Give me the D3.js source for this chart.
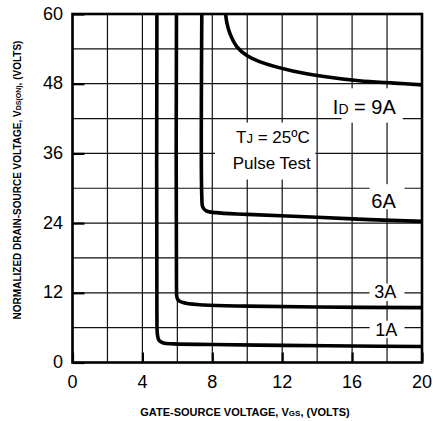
<!DOCTYPE html>
<html>
<head>
<meta charset="utf-8">
<script src="https://cdn.jsdelivr.net/npm/d3@7"></script>
<style>
  body { margin: 0; background: #fff; }
  svg { display: block; font-family: "Liberation Sans", Arial, sans-serif; }
</style>
</head>
<body>
<svg width="433" height="421"></svg>
<script>
// curves: gate-source voltage vs normalized Vds(on)
var vgs1A = [4.83, 4.83, 4.86, 4.95, 5.2, 5.8, 8, 12, 16, 20];
var vds1A = [60, 8, 4.8, 3.8, 3.35, 3.2, 3.1, 2.95, 2.85, 2.75];
var vgs3A = [5.95, 5.95, 5.98, 6.1, 6.5, 7.5, 10, 14, 20];
var vds3A = [60, 13, 11.2, 10.6, 10.2, 9.9, 9.7, 9.55, 9.45];
var vgs6A = [7.4, 7.4, 7.45, 7.65, 8.2, 10, 14, 17, 20];
var vds6A = [60, 28.5, 26.8, 26.1, 25.8, 25.5, 25.0, 24.6, 24.3];
var vgs9A = [8.76, 8.84, 9.0, 9.4, 10.0, 10.7, 12.6, 14.5, 16.4, 18.4, 20];
var vds9A = [60, 58.4, 56.7, 54.4, 52.8, 51.8, 50.2, 49.2, 48.5, 48.1, 47.8];

var xTicks = [0, 4, 8, 12, 16, 20];
var yTicks = [0, 12, 24, 36, 48, 60];
var xGrid = d3.range(0, 21, 2);
var yGrid = d3.range(0, 61, 6);

var curveLabels = ["9A", "6A", "3A", "1A"];
var labelAt = [[16.7, 44.0], [17.8, 27.8], [17.9, 12.2], [17.95, 5.6]];
var labelSize = [20, 20, 18, 18];

var svg = d3.select("svg");
var x = d3.scaleLinear().domain([0, 20]).range([72.5, 422]);
var y = d3.scaleLinear().domain([0, 60]).range([362.5, 14]);

// grid
svg.append("g").selectAll("line.vg").data(xGrid).enter().append("line")
  .attr("x1", d => x(d)).attr("x2", d => x(d))
  .attr("y1", y(0)).attr("y2", y(60))
  .attr("stroke", "#111").attr("stroke-width", 1.2);
svg.append("g").selectAll("line.hg").data(yGrid).enter().append("line")
  .attr("x1", x(0)).attr("x2", x(20))
  .attr("y1", d => y(d)).attr("y2", d => y(d))
  .attr("stroke", "#111").attr("stroke-width", 1.2);

// inner major ticks
var yAxis = d3.axisLeft(y).tickValues(yTicks).tickSize(-12).tickFormat("");
svg.append("g").attr("transform", `translate(${x(0)},0)`).call(yAxis)
  .call(g => g.select(".domain").remove())
  .selectAll("line").attr("stroke-width", 2.2);
var xAxis = d3.axisBottom(x).tickValues(xTicks).tickSize(-10).tickFormat("");
svg.append("g").attr("transform", `translate(0,${y(0)})`).call(xAxis)
  .call(g => g.select(".domain").remove())
  .selectAll("line").attr("stroke-width", 2.2);

// white boxes behind the annotations
var boxes = [[15.4, 18.9, 47.2, 41.3], [8.15, 13.9, 41.3, 31.5],
             [17.0, 19.0, 30.7, 26.4], [17.0, 19.0, 13.6, 10.6], [17.0, 19.0, 7.2, 4.2]];
svg.append("g").selectAll("rect").data(boxes).enter().append("rect")
  .attr("x", d => x(d[0])).attr("width", d => x(d[1]) - x(d[0]))
  .attr("y", d => y(d[2])).attr("height", d => y(d[3]) - y(d[2]))
  .attr("fill", "#fff");

// frame
svg.append("rect").attr("x", x(0)).attr("y", y(60))
  .attr("width", x(20) - x(0)).attr("height", y(0) - y(60))
  .attr("fill", "none").attr("stroke", "#000").attr("stroke-width", 2.6);

// curves
var line = d3.line().x(d => x(d[0])).y(d => y(d[1])).curve(d3.curveCatmullRom.alpha(0.5));
var curves = [[vgs1A, vds1A], [vgs3A, vds3A], [vgs6A, vds6A], [vgs9A, vds9A]];
svg.append("g").selectAll("path").data(curves).enter().append("path")
  .attr("d", d => line(d3.zip(d[0], d[1])))
  .attr("fill", "none").attr("stroke", "#000").attr("stroke-width", 3.6);

// tick labels
svg.append("g").selectAll("text").data(yTicks).enter().append("text")
  .attr("x", 63).attr("y", d => y(d) + 5.5)
  .attr("text-anchor", "end").attr("font-size", 18).text(d => d);
svg.append("g").selectAll("text").data(xTicks).enter().append("text")
  .attr("x", d => x(d)).attr("y", 388)
  .attr("text-anchor", "middle").attr("font-size", 18).text(d => d);

// curve labels
var lab = svg.append("g");
curveLabels.forEach(function(t, i) {
  var tx = lab.append("text").attr("x", x(labelAt[i][0])).attr("y", y(labelAt[i][1]) + labelSize[i] * 0.36)
    .attr("text-anchor", "middle").attr("font-size", labelSize[i]);
  if (i === 0) {
    tx.append("tspan").text("I");
    tx.append("tspan").attr("font-size", 14).text("D");
    tx.append("tspan").text(" = " + t);
  } else {
    tx.text(t);
  }
});
var cond = svg.append("g").attr("font-size", 17).attr("text-anchor", "middle");
var tj = cond.append("text").attr("x", x(11.47)).attr("y", y(38.8) + 6);
tj.append("tspan").text("T");
tj.append("tspan").attr("font-size", 13).text("J");
tj.append("tspan").text(" = 25\u00baC");
cond.append("text").attr("x", x(11.4)).attr("y", y(34.4) + 6).text("Pulse Test");

// axis titles
var xt = svg.append("text").attr("x", 245).attr("y", 416)
  .attr("text-anchor", "middle").attr("font-size", 11).attr("font-weight", "bold");
xt.append("tspan").text("GATE-SOURCE VOLTAGE, V");
xt.append("tspan").attr("font-size", 8).text("GS");
xt.append("tspan").text(", (VOLTS)");

var yt = svg.append("text").attr("transform", "translate(21,180) rotate(-90)")
  .attr("text-anchor", "middle").attr("font-size", 10).attr("font-weight", "bold");
yt.append("tspan").text("NORMALIZED DRAIN-SOURCE VOLTAGE, V");
yt.append("tspan").attr("font-size", 7).text("DS(ON)");
yt.append("tspan").text(", (VOLTS)");
</script>
</body>
</html>
